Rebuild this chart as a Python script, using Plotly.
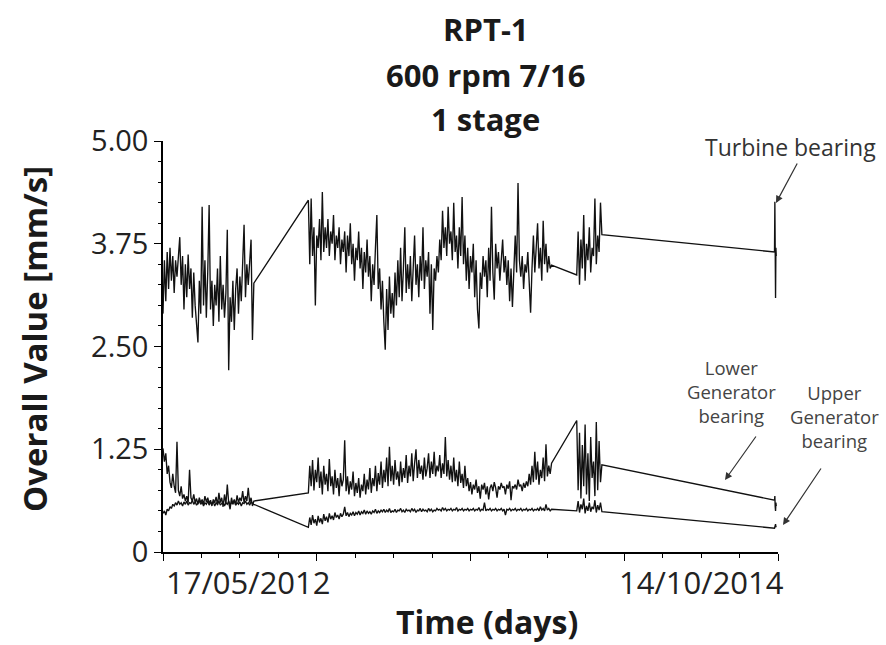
import plotly.graph_objects as go

# ---------------- data (days since 17/05/2012, values in mm/s) ----------------
STEP = 2  # daily readings sampled every 2 days in the dense blocks

# segment start days
seg_a_start = 0
seg_b_start = 208
seg_c_start = 592
seg_d_days = [875.0, 875.5, 876.0, 876.5, 877.0, 877.5]

turbine_a = [2.90, 3.55, 3.05, 3.65, 3.20, 3.70, 3.30, 3.60, 3.15, 3.55, 3.35, 3.65, 3.83, 3.25,
             3.60, 2.95, 3.50, 3.10, 3.62, 3.20, 3.45, 2.85, 3.40, 3.00, 2.70, 2.55, 3.30, 2.90,
             4.20, 3.00, 3.55, 2.85, 3.40, 4.22, 2.95, 3.30, 2.75, 3.25, 3.00, 3.45, 2.80, 3.60,
             2.95, 3.25, 2.85, 3.15, 3.92, 2.21, 3.10, 2.80, 3.30, 2.70, 3.20, 3.45, 2.90, 3.35,
             3.05, 3.55, 3.98, 3.10, 3.50, 3.25, 3.60, 3.80, 2.58, 3.27]
turbine_b = [4.28, 3.50, 4.30, 3.60, 3.95, 3.00, 3.85, 3.70, 4.05, 3.55, 4.38, 3.65, 3.95, 3.70,
             4.05, 3.60, 3.90, 3.75, 4.10, 3.55, 3.85, 3.70, 3.95, 3.50, 3.80, 3.65, 3.90, 3.40,
             3.85, 3.60, 4.00, 3.50, 3.75, 3.30, 3.70, 3.55, 3.90, 3.45, 3.70, 3.20, 3.65, 3.40,
             3.80, 3.35, 3.60, 3.05, 3.50, 3.25, 3.70, 4.10, 3.20, 3.45, 2.95, 3.30, 2.80, 2.46,
             3.20, 2.70, 3.35, 2.90, 3.15, 2.85, 3.40, 3.00, 3.55, 3.10, 3.70, 3.05, 3.45, 3.95,
             3.15, 3.50, 3.20, 3.60, 3.05, 3.45, 3.85, 3.25, 3.50, 3.10, 3.60, 3.30, 3.95, 3.20,
             3.55, 3.35, 3.65, 2.90, 3.50, 2.70, 3.45, 3.30, 3.60, 3.40, 3.80, 3.55, 4.15, 3.70,
             3.95, 3.60, 4.20, 3.75, 3.90, 3.55, 4.25, 3.65, 3.85, 3.45, 3.95, 3.60, 4.32, 3.50,
             3.85, 3.30, 3.70, 3.20, 3.60, 3.40, 3.75, 3.10, 3.55, 2.95, 2.72, 3.40, 3.20, 3.60,
             3.35, 3.55, 3.10, 3.70, 3.30, 4.20, 3.40, 3.07, 3.75, 3.45, 3.65, 3.30, 3.50, 3.80,
             3.40, 3.60, 3.25, 3.55, 3.05, 3.45, 2.98, 3.50, 3.85, 3.40, 4.49, 3.55, 3.35, 3.60,
             3.20, 3.50, 3.40, 3.65, 3.15, 2.91, 3.45, 3.85, 3.40, 3.65, 4.00, 3.45, 3.70, 3.30,
             4.03, 3.50, 3.75, 3.40, 3.60, 3.45, 3.49]
turbine_c = [3.37, 3.90, 3.25, 3.80, 3.45, 4.10, 3.30, 3.75, 3.55, 3.95, 3.40, 3.70, 3.60, 4.30,
             3.50, 3.85, 3.65, 4.25, 3.86]
turbine_d = [3.65, 4.26, 3.55, 3.09, 3.70, 3.60]

lower_a = [1.26, 1.10, 1.20, 0.95, 1.05, 0.85, 0.78, 0.95, 0.80, 0.72, 1.34, 0.75, 0.68, 0.80,
           0.65, 0.70, 0.62, 0.68, 0.60, 1.00, 0.66, 0.62, 0.70, 0.60, 0.65, 0.58, 0.66, 0.60,
           0.64, 0.58, 0.68, 0.61, 0.66, 0.59, 0.63, 0.56, 0.64, 0.60, 0.67, 0.57, 0.72, 0.60,
           0.66, 0.55, 0.70, 0.58, 0.82, 0.60, 0.52, 0.66, 0.58, 0.64, 0.57, 0.69, 0.60, 0.66,
           0.62, 0.74, 0.60, 0.68, 0.62, 0.78, 0.60, 0.66, 0.56, 0.62]
lower_b = [0.72, 1.05, 0.80, 1.12, 0.75, 1.00, 0.85, 1.15, 0.78, 0.98, 0.70, 1.05, 0.82, 0.95,
           0.74, 1.13, 0.80, 0.92, 0.70, 1.00, 0.78, 0.90, 0.68, 0.96, 0.80, 0.88, 1.36, 0.74,
           0.92, 0.70, 0.86, 0.76, 0.98, 0.68, 0.84, 0.72, 0.90, 0.66, 0.82, 0.74, 0.95, 0.70,
           0.88, 0.76, 1.02, 0.72, 0.90, 0.80, 1.05, 0.74, 0.96, 0.82, 1.10, 0.78, 1.00, 0.85,
           1.15, 0.80, 1.28, 0.86, 1.05, 0.82, 1.12, 0.88, 0.98, 0.80, 1.10, 0.85, 1.02, 0.90,
           1.18, 0.84, 1.05, 0.92, 1.20, 0.86, 1.08, 1.25, 0.90, 1.12, 0.95, 1.05, 0.88, 1.15,
           0.92, 1.02, 1.20, 0.90, 1.10, 0.95, 1.22, 0.92, 1.05, 0.98, 1.18, 0.90, 1.08, 0.95,
           1.40, 0.92, 1.12, 0.88, 1.05, 0.85, 1.15, 0.86, 1.00, 0.80, 1.10, 0.84, 0.95, 0.78,
           1.05, 0.80, 0.90, 0.74, 0.85, 0.70, 0.82, 0.76, 0.88, 0.72, 0.80, 0.65, 0.82, 0.76,
           0.84, 0.70, 0.80, 0.64, 0.78, 0.82, 0.74, 0.85, 0.78, 0.66, 0.80, 0.76, 0.84, 0.78,
           0.80, 0.70, 0.82, 0.77, 0.86, 0.63, 0.80, 0.78, 0.82, 0.76, 0.88, 0.80, 0.82, 0.74,
           0.84, 0.78, 0.86, 0.80, 0.95, 0.82, 1.05, 0.85, 1.22, 0.88, 1.10, 0.82, 1.00, 0.90,
           1.15, 0.86, 1.31, 0.92, 1.05, 0.95, 1.08]
lower_c = [1.60, 0.75, 1.45, 0.65, 1.30, 0.80, 1.55, 0.70, 1.20, 0.62, 1.40, 0.90, 1.10, 0.68,
           1.58, 0.75, 1.35, 0.85, 1.06]
lower_d = [0.63, 0.68, 0.55, 0.50, 0.60, 0.56]

upper_a = [0.47, 0.50, 0.45, 0.52, 0.50, 0.55, 0.53, 0.58, 0.56, 0.60, 0.57, 0.62, 0.58, 0.60,
           0.56, 0.61, 0.58, 0.62, 0.57, 0.60, 0.59, 0.63, 0.58, 0.61, 0.57, 0.60, 0.62, 0.58,
           0.61, 0.56, 0.60, 0.58, 0.62, 0.57, 0.60, 0.59, 0.61, 0.56, 0.60, 0.58, 0.62, 0.57,
           0.59, 0.61, 0.56, 0.60, 0.58, 0.62, 0.57, 0.60, 0.59, 0.63, 0.57, 0.60, 0.58, 0.61,
           0.56, 0.60, 0.59, 0.62, 0.58, 0.60, 0.57, 0.61, 0.59, 0.58]
upper_b = [0.30, 0.42, 0.33, 0.45, 0.35, 0.40, 0.32, 0.44, 0.36, 0.41, 0.34, 0.46, 0.38, 0.43,
           0.36, 0.47, 0.40, 0.44, 0.39, 0.48, 0.42, 0.45, 0.40, 0.47, 0.43, 0.46, 0.55, 0.44,
           0.48, 0.43, 0.47, 0.45, 0.49, 0.44, 0.48, 0.46, 0.50, 0.45, 0.49, 0.47, 0.51, 0.46,
           0.50, 0.47, 0.49, 0.46, 0.50, 0.48, 0.52, 0.47, 0.50, 0.48, 0.51, 0.49, 0.52, 0.48,
           0.51, 0.49, 0.53, 0.48, 0.50, 0.49, 0.52, 0.48, 0.51, 0.50, 0.53, 0.49, 0.51, 0.48,
           0.52, 0.50, 0.51, 0.49, 0.53, 0.50, 0.52, 0.48, 0.51, 0.50, 0.53, 0.49, 0.52, 0.50,
           0.51, 0.49, 0.53, 0.50, 0.52, 0.49, 0.51, 0.50, 0.53, 0.51, 0.52, 0.50, 0.54, 0.51,
           0.53, 0.50, 0.52, 0.51, 0.53, 0.50, 0.52, 0.51, 0.54, 0.50, 0.52, 0.51, 0.53, 0.50,
           0.52, 0.51, 0.53, 0.50, 0.52, 0.51, 0.53, 0.50, 0.52, 0.51, 0.54, 0.50, 0.52, 0.51,
           0.60, 0.50, 0.52, 0.51, 0.53, 0.50, 0.52, 0.51, 0.53, 0.50, 0.52, 0.51, 0.53, 0.50,
           0.52, 0.45, 0.52, 0.51, 0.53, 0.50, 0.52, 0.51, 0.53, 0.50, 0.52, 0.51, 0.53, 0.50,
           0.52, 0.51, 0.53, 0.50, 0.52, 0.51, 0.53, 0.50, 0.52, 0.51, 0.53, 0.50, 0.55, 0.51,
           0.53, 0.50, 0.58, 0.51, 0.53, 0.50, 0.52]
upper_c = [0.50, 0.62, 0.48, 0.58, 0.52, 0.65, 0.47, 0.56, 0.50, 0.60, 0.49, 0.55, 0.52, 0.63,
           0.48, 0.57, 0.51, 0.60, 0.49]
upper_d = [0.29, 0.33, 0.30, 0.34, 0.31, 0.30]

# axis ticks / labels
y_tick_vals = [0, 1.25, 2.5, 3.75, 5.0]
y_tick_text = ["0", "1.25", "2.50", "3.75", "5.00"]
x_major_ticks = [0, 220, 440, 660, 880]
x_date_labels = ["17/05/2012", "14/10/2014"]
x_date_label_days = [122, 771]
x_range = [0, 880]
y_range = [0, 5]

title_lines = ["RPT-1", "600 rpm 7/16", "1 stage"]


def build(a, b, c, d):
    xs, ys = [], []
    for start, vals in ((seg_a_start, a), (seg_b_start, b), (seg_c_start, c)):
        xs += [start + STEP * i for i in range(len(vals))]
        ys += vals
    xs += seg_d_days[:len(d)]
    ys += d
    return xs, ys


FONT = "Open Sans"
LINE_COLOR = "#111111"

fig = go.Figure()
for name, parts in (("Turbine bearing", (turbine_a, turbine_b, turbine_c, turbine_d)),
                    ("Lower Generator bearing", (lower_a, lower_b, lower_c, lower_d)),
                    ("Upper Generator bearing", (upper_a, upper_b, upper_c, upper_d))):
    xs, ys = build(*parts)
    fig.add_trace(go.Scatter(x=xs, y=ys, mode="lines", name=name,
                             line=dict(color=LINE_COLOR, width=1.35)))

L, R, T, B = 163, 108, 141, 93
W, H = 886, 645
PW, PH = W - L - R, H - T - B


def px(xp):
    return (xp - L) / PW


def py(yp):
    return (H - B - yp) / PH


annotations = []
# title lines
for txt, yc in zip(title_lines, [29, 75, 119]):
    annotations.append(dict(text="<b>%s</b>" % txt, xref="paper", yref="paper",
                            x=px(486), y=py(yc), xanchor="center", yanchor="middle",
                            showarrow=False, font=dict(family=FONT, size=31, color="#1a1a1a")))
# date labels under axis
for txt, dday in zip(x_date_labels, x_date_label_days):
    annotations.append(dict(text=txt, xref="x", yref="paper", x=dday, y=py(582),
                            xanchor="center", yanchor="middle", showarrow=False,
                            font=dict(family=FONT, size=31, color="#222")))
# axis titles
annotations.append(dict(text="<b>Time (days)</b>", xref="paper", yref="paper",
                        x=px(487), y=py(621), xanchor="center", yanchor="middle",
                        showarrow=False, font=dict(family=FONT, size=32, color="#1a1a1a")))
annotations.append(dict(text="<b>Overall Value [mm/s]</b>", xref="paper", yref="paper",
                        x=px(34), y=py(339), xanchor="center", yanchor="middle",
                        textangle=-90, showarrow=False,
                        font=dict(family=FONT, size=33, color="#1a1a1a")))
# series labels
annotations.append(dict(text="Turbine bearing", xref="paper", yref="paper",
                        x=px(790), y=py(147), xanchor="center", yanchor="middle",
                        showarrow=False, font=dict(family=FONT, size=23, color="#333")))
annotations.append(dict(text="Lower<br>Generator<br>bearing", xref="paper", yref="paper",
                        x=px(731), y=py(391), xanchor="center", yanchor="middle",
                        showarrow=False, font=dict(family=FONT, size=18.5, color="#444")))
annotations.append(dict(text="Upper<br>Generator<br>bearing", xref="paper", yref="paper",
                        x=px(834), y=py(416), xanchor="center", yanchor="middle",
                        showarrow=False, font=dict(family=FONT, size=18.5, color="#444")))
# arrows (head, tail in pixels)
for (hx, hy), (tx, ty) in (((776, 203), (798, 162)),
                           ((725, 480), (757, 435)),
                           ((783, 525), (822, 467))):
    annotations.append(dict(text="", xref="paper", yref="paper", x=px(hx), y=py(hy),
                            ax=tx - hx, ay=ty - hy, showarrow=True, arrowhead=2,
                            arrowsize=1.2, arrowwidth=1.2, arrowcolor="#333"))

fig.update_layout(
    width=W, height=H,
    margin=dict(l=L, r=R, t=T, b=B),
    paper_bgcolor="white", plot_bgcolor="white",
    showlegend=False,
    annotations=annotations,
    xaxis=dict(range=x_range, showgrid=False, zeroline=False, showline=True,
               linecolor="black", linewidth=1.5, tickmode="array", tickvals=x_major_ticks,
               showticklabels=False, ticks="outside", ticklen=7, tickwidth=1.3,
               tickcolor="black",
               minor=dict(ticks="outside", ticklen=4, tickwidth=1, tickcolor="black",
                          dtick=55, tick0=0)),
    yaxis=dict(range=y_range, showgrid=False, zeroline=False, showline=True,
               linecolor="black", linewidth=1.5, tickmode="array", tickvals=y_tick_vals,
               ticktext=y_tick_text, ticks="outside", ticklen=7, tickwidth=1.3,
               tickcolor="black", tickfont=dict(family=FONT, size=29, color="#222"),
               minor=dict(ticks="outside", ticklen=3, tickwidth=1, tickcolor="black",
                          dtick=0.25, tick0=0)),
)

fig.write_html("out.html")
